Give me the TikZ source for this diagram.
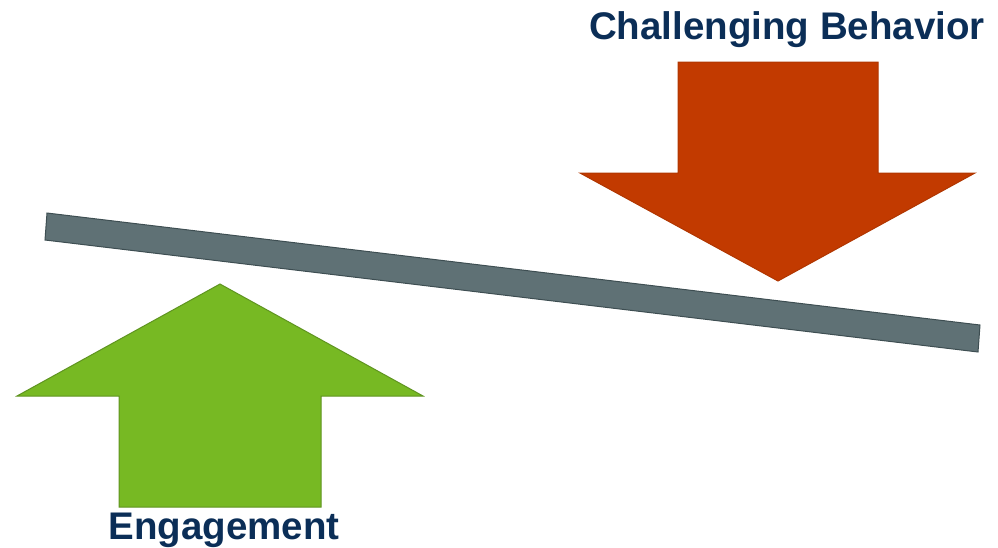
\documentclass[tikz,border=0pt]{standalone}
\usepackage{fontspec}
\setmainfont{Liberation Sans}
\definecolor{navy}{HTML}{0B2E57}
\definecolor{leaf}{HTML}{77B923}
\definecolor{leafline}{HTML}{5F9420}
\definecolor{rust}{HTML}{C23A00}
\definecolor{rustline}{HTML}{B03600}
\definecolor{slate}{HTML}{5F7175}
\definecolor{slateline}{HTML}{3E4E52}
\begin{document}
\begin{tikzpicture}[
  x=1pt, y=-1pt,
  label/.style={font=\fontsize{38.5}{46}\selectfont\bfseries, text=navy, inner sep=0pt},
  arrowshape/.style={fill=#1, draw=#1line, line width=1pt, line join=miter}
]
  \useasboundingbox (0,0) rectangle (998,547);
  % Lever
  \draw[fill=slate, draw=slateline, line width=1pt]
    (47,213) -- (980,325) -- (978,352) -- (45,240) -- cycle;
  % Up arrow
  \draw[arrowshape=leaf]
    (220,284) -- (423,396) -- (321,396) -- (321,507) -- (119,507)
    -- (119,396) -- (17,396) -- cycle;
  % Down arrow
  \draw[arrowshape=rust]
    (678,62) -- (878,62) -- (878,173) -- (975,173) -- (778,281)
    -- (580,173) -- (678,173) -- cycle;
  % Labels
  \node[label] (behavior) at (787,30) {Challenging Behavior};
  \node[label] (engage) at (224,530) {Engagement};
\end{tikzpicture}
\end{document}
